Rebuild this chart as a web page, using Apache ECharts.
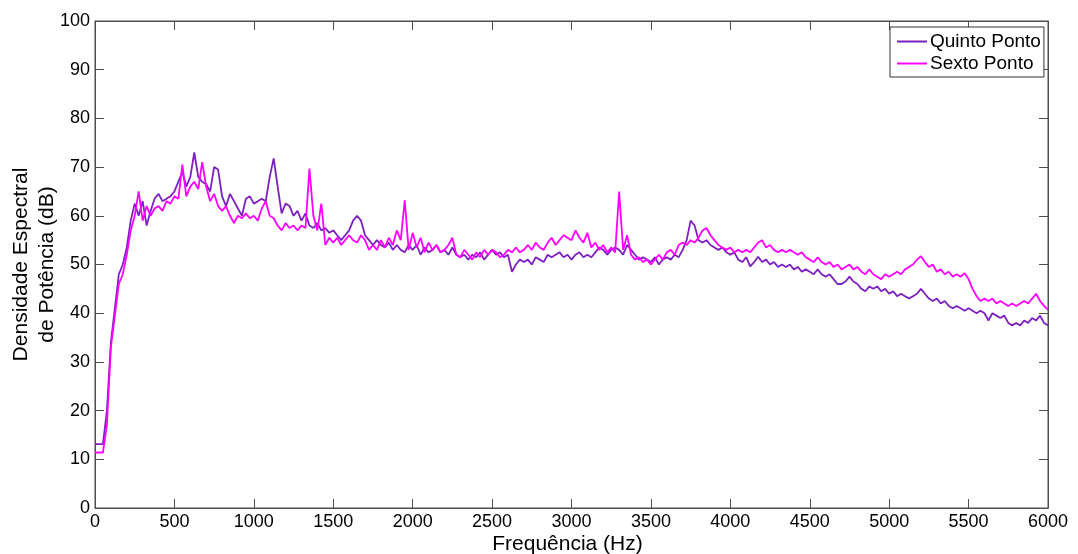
<!DOCTYPE html>
<html><head><meta charset="utf-8">
<script src="https://cdn.jsdelivr.net/npm/echarts@6/dist/echarts.min.js"></script>
<style>html,body{margin:0;padding:0;background:#fff}#c{width:1078px;height:554px}</style>
</head><body><div id="c"></div>
<script>
const stepHz = 25;
const xTicks = [0,500,1000,1500,2000,2500,3000,3500,4000,4500,5000,5500,6000];
const yTicks = [0,10,20,30,40,50,60,70,80,90,100];
const quinto = [
13.1,13.1,13.1,20,34,41,48,50,53.5,59,62.5,60,63,58,61,63.5,64.5,63,63.5,64,65,67,69,66,68,73,68,67,66.5,65,70,69.5,64,62,64.5,63,61.5,60,63.5,64,
62.5,63,63.5,63,68,71.8,66,60.5,62.5,62,60,61,59,60.5,58,57.5,58.5,57,57.5,56.5,57,56,55,56,57,59,60,59,56,55,54,55,54,53.5,54.5,53,54,53,52.5,54,
53,54,52,53.5,52.5,53,54,52.5,53,52,53.5,52,51.5,52,51,52,51.5,52.5,51,52,53,52,52.5,51.5,52,48.5,50,51,50.5,51,50,51.5,51,50.5,52,51.5,52,52.5,51.5,52,
51,52,52.5,51.5,52,51.5,52.5,53.5,53,52,53,53.5,53,52,54,53,52,51,51.5,51,50.5,51.5,50,51,51.5,51,52,51.5,53,55,59,58,55,54.5,55,54,53.5,53,53.5,52.5,
52,52.5,51,50.5,51.5,49.6,50.5,51.6,50.5,51,50,50.5,49.5,50,49.5,50,49,49.5,48.5,49,48.5,48,49,48,47.5,48,47,46,46,46.5,47.5,46.5,46,45,44.5,45.5,45,45.5,44.5,45,
44,44.5,43.5,44,43.5,43,43.5,44,45,44,43,42.5,43,42,42.5,41.5,41,41.5,41,40.5,41,40.5,40,40.5,40,38.5,40,39.5,39,39.5,38,37.5,38,37.5,38.5,38,39,38.5,39.5,38,37.5
];
const sexto = [
11.4,11.4,11.4,17,33,39.5,46,48,52,57,60,65,59,62,60,61.5,62,61,63,62.5,64,63.5,70.5,64,66,67,65.5,71,66,63,64.5,62,61,62,60,58.5,60,59.5,60.5,59.5,
60,59,61.5,63,60,59.5,58,57,58.5,57.5,58,57,58,57.5,69.7,60,57,62.5,54,55.5,54.5,55.5,54,55,56,55,54.5,56,55,53,54,53,55,53.5,55.5,54,57,55,63.2,53,
56.5,53.5,55.5,52.5,54.5,53,54,52.5,53,54,55.5,52,51.5,53,52,51,52.5,51.5,53,52,53,52.5,51.5,52,53,52.5,53.5,52.5,53,54,53,54.5,53.5,53,54.5,55.5,54,55,56,55.5,
55,57,55.5,54.5,56.5,53.5,54.5,53,54,52.5,53.5,52.5,65,53,56,52,51,51.5,50.5,51,50,51,52,51,52.5,53,52,54,54.5,54,55,54.5,55.5,57,57.5,56,55,54,53.5,53,
53.5,52.5,53,52.5,53,52.5,53.5,54.5,55,53.5,54,53,52.5,53,52.5,53,52.5,52,52.5,51.5,51,50.5,51.5,50.5,50,50.5,49.5,50,49,49.5,50,49,49.5,48.5,48,49,48,47.5,47,48,
47.5,48,48.5,48,49,49.5,50,51,51.7,50.5,49.5,50,48.5,49,48,48.5,47.5,48,47.5,48.2,47,45,43.5,42.5,43,42.5,43,42,42.5,42,41.5,42,41.5,42,42.5,42,43,44,42.5,41.5,40.7
];
const toPairs = arr => arr.map((v,i)=>[i*stepHz, v]);
const font = 'Liberation Sans, Arial, sans-serif';
const axisCol = '#4d4d4d';
const chart = echarts.init(document.getElementById('c'), null, {renderer:'canvas'});
chart.setOption({
  backgroundColor:'#fff',
  animation:false,
  grid:{left:95,right:30,top:21,bottom:46,containLabel:false,outerBoundsMode:'none',
        show:true,borderColor:axisCol,borderWidth:1,backgroundColor:'transparent'},
  legend:{
    orient:'vertical', left:890, top:27,
    backgroundColor:'#fff', borderColor:'#333', borderWidth:1,
    padding:[5,3,4,7], itemGap:3, itemWidth:30, itemHeight:2,
    icon:'rect',
    textStyle:{fontFamily:font,fontSize:19,color:'#000',padding:[0,0,0,-2]},
    data:['Quinto Ponto','Sexto Ponto']
  },
  xAxis:[{
    type:'value', min:0, max:6000, interval:500,
    name:'Frequência (Hz)', nameLocation:'middle', nameGap:26, nameMoveOverlap:false,
    nameTextStyle:{fontFamily:font,fontSize:21,color:'#000',padding:[0,8,0,0]},
    axisLine:{onZero:false,lineStyle:{color:axisCol,width:1}},
    axisTick:{inside:true,length:9,lineStyle:{color:axisCol}},
    axisLabel:{fontFamily:font,fontSize:18,color:'#000',margin:5,formatter:v=>String(v)},
    splitLine:{show:false}
  },{
    type:'value', position:'top', min:0, max:6000, interval:500,
    axisLine:{show:true,onZero:false,lineStyle:{color:axisCol,width:1}},
    axisTick:{show:true,inside:true,length:9,lineStyle:{color:axisCol}},
    axisLabel:{show:false}, splitLine:{show:false}
  }],
  yAxis:[{
    type:'value', min:0, max:100, interval:10,
    name:'Densidade Espectral\nde Potência (dB)', nameLocation:'middle', nameGap:35, nameMoveOverlap:false,
    nameTextStyle:{fontFamily:font,fontSize:21,color:'#000',lineHeight:26},
    axisLine:{show:true,onZero:false,lineStyle:{color:axisCol,width:1}},
    axisTick:{show:true,inside:true,length:9,lineStyle:{color:axisCol}},
    axisLabel:{fontFamily:font,fontSize:18,color:'#000',margin:5},
    splitLine:{show:false}
  },{
    type:'value', position:'right', min:0, max:100, interval:10,
    axisLine:{show:true,onZero:false,lineStyle:{color:axisCol,width:1}},
    axisTick:{show:true,inside:true,length:9,lineStyle:{color:axisCol}},
    axisLabel:{show:false}, splitLine:{show:false}
  }],
  series:[
    {name:'Quinto Ponto',type:'line',data:toPairs(quinto),showSymbol:false,
     xAxisIndex:0,yAxisIndex:0,
     lineStyle:{color:'#7E1FC0',width:1.8},itemStyle:{color:'#7E1FC0'},z:2},
    {name:'Sexto Ponto',type:'line',data:toPairs(sexto),showSymbol:false,
     xAxisIndex:1,yAxisIndex:1,
     lineStyle:{color:'#FF00FF',width:1.8},itemStyle:{color:'#FF00FF'},z:3}
  ]
});
</script></body></html>
